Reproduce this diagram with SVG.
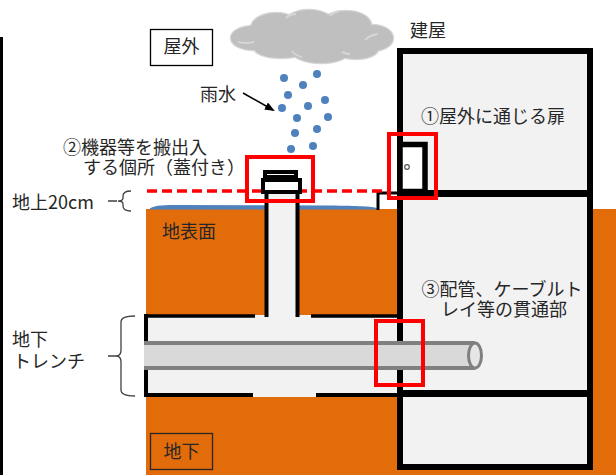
<svg xmlns="http://www.w3.org/2000/svg" width="616" height="475" viewBox="0 0 616 475">
  <style>
    .lbl { font-family: "Noto Sans CJK JP", "Noto Sans", sans-serif; font-size: 18px; fill: #262626; }
    .mid { text-anchor: middle; }
    .wall { fill: none; stroke: #000; }
    .hl { fill: none; stroke: #ff0000; stroke-width: 4; }
    .brace { fill: none; stroke: #404040; stroke-width: 1.3; }
    .drop { fill: #4f81bd; }
    .cloud-edge { fill: #bfbfbf; stroke: #d6d6d6; stroke-width: 2.5; }
    .cloud-fill { fill: #bfbfbf; }
  </style>
  <defs>
    <marker id="arrowHead" markerWidth="10" markerHeight="8" refX="8" refY="4" orient="auto" markerUnits="userSpaceOnUse">
      <path d="M0,0 L10,4 L0,8 Z" fill="#000"/>
    </marker>
  </defs>

  <rect x="0" y="0" width="616" height="475" fill="#ffffff"/>

  <!-- left border line -->
  <rect x="0" y="37" width="3" height="438" fill="#000"/>

  <!-- ground -->
  <g id="ground">
    <rect x="146" y="209" width="470" height="266" fill="#e36c0a"/>
    <path d="M149,209.5 C152,205 165,204.8 180,205 L330,205.6 C358,206 372,206.4 377,208.2 L377,209.5 Z" fill="#4f81bd"/>
  </g>

  <!-- building -->
  <g id="building">
    <rect x="400" y="51" width="190" height="416" fill="#f2f2f2" stroke="#000" stroke-width="6"/>
    <line x1="397" y1="193.5" x2="593" y2="193.5" stroke="#000" stroke-width="7"/>
    <line x1="397" y1="393.5" x2="593" y2="393.5" stroke="#000" stroke-width="7"/>
    <path class="wall" d="M397,193 H378 V210" stroke-width="3"/>
  </g>

  <!-- door to outside -->
  <g id="door">
    <rect x="400" y="144.5" width="25" height="47" fill="#ffffff" stroke="#000" stroke-width="5.5"/>
    <circle cx="407" cy="167" r="2.3" fill="#ffffff" stroke="#555" stroke-width="1.2"/>
  </g>

  <!-- underground trench and shaft -->
  <g id="trench">
    <rect x="146" y="315" width="251" height="82" fill="#f2f2f2"/>
    <rect x="268" y="194" width="28" height="123" fill="#f2f2f2"/>
    <path class="wall" stroke-width="3.5" d="M146,316 H255 M311,316 H397"/>
    <path class="wall" stroke-width="4" d="M146,395 H253 M316,395 H397"/>
    <path class="wall" stroke-width="4" d="M146,314 V397"/>
    <path class="wall" stroke-width="4" d="M266.5,194 V317 M297.5,194 V317"/>
  </g>

  <!-- pipe / cable tray -->
  <g id="pipe">
    <rect x="144" y="343" width="331" height="25" fill="#d9d9d9"/>
    <path d="M144,343 H475 M144,368 H475" fill="none" stroke="#808080" stroke-width="4"/>
    <ellipse cx="475" cy="355.5" rx="6.5" ry="12.5" fill="#e6e6e6" stroke="#808080" stroke-width="3"/>
  </g>

  <!-- ground + 20cm reference line -->
  <line x1="147" y1="191" x2="383" y2="191" stroke="#ff0000" stroke-width="3.5" stroke-dasharray="10 5"/>

  <!-- hatch with lid -->
  <g id="hatch">
    <rect x="263" y="180" width="37" height="12" fill="#ffffff" stroke="#000" stroke-width="4"/>
    <rect x="265" y="172" width="31" height="5" fill="#ffffff" stroke="#000" stroke-width="4"/>
  </g>

  <!-- highlighted spots -->
  <g id="highlights">
    <rect class="hl" x="247" y="157" width="66" height="44"/>
    <rect class="hl" x="389" y="134" width="47" height="64"/>
    <rect class="hl" x="376" y="321" width="47" height="64"/>
  </g>

  <!-- cloud -->
  <g id="cloud">
    <ellipse class="cloud-edge" cx="253" cy="38" rx="22" ry="12"/>
    <ellipse class="cloud-edge" cx="276" cy="28" rx="25" ry="15"/>
    <ellipse class="cloud-edge" cx="309" cy="24" rx="25" ry="14"/>
    <ellipse class="cloud-edge" cx="346" cy="25" rx="25" ry="14"/>
    <ellipse class="cloud-edge" cx="372" cy="38" rx="21" ry="13"/>
    <ellipse class="cloud-edge" cx="356" cy="49" rx="22" ry="10"/>
    <ellipse class="cloud-edge" cx="321" cy="50" rx="30" ry="13"/>
    <ellipse class="cloud-edge" cx="281" cy="48" rx="27" ry="10"/>
    <ellipse class="cloud-fill" cx="253" cy="38" rx="22" ry="12"/>
    <ellipse class="cloud-fill" cx="276" cy="28" rx="25" ry="15"/>
    <ellipse class="cloud-fill" cx="309" cy="24" rx="25" ry="14"/>
    <ellipse class="cloud-fill" cx="346" cy="25" rx="25" ry="14"/>
    <ellipse class="cloud-fill" cx="372" cy="38" rx="21" ry="13"/>
    <ellipse class="cloud-fill" cx="356" cy="49" rx="22" ry="10"/>
    <ellipse class="cloud-fill" cx="321" cy="50" rx="30" ry="13"/>
    <ellipse class="cloud-fill" cx="281" cy="48" rx="27" ry="10"/>
    <ellipse class="cloud-fill" cx="312" cy="38" rx="62" ry="15"/>
    <path d="M238,42 Q246,44 254,42 M286,18 Q290,14 296,14 M330,16 Q333,12 338,12 M365,40 Q370,35 378,34 M292,51 Q296,56 302,57 M342,52 Q346,54 350,54" fill="none" stroke="#d6d6d6" stroke-width="2"/>
  </g>

  <!-- rain -->
  <g id="rain">
    <circle class="drop" cx="284" cy="78" r="4"/>
    <circle class="drop" cx="317" cy="74" r="4"/>
    <circle class="drop" cx="303" cy="85" r="4"/>
    <circle class="drop" cx="288" cy="95" r="4"/>
    <circle class="drop" cx="325" cy="100" r="4"/>
    <circle class="drop" cx="282" cy="108" r="4"/>
    <circle class="drop" cx="308" cy="106" r="4"/>
    <circle class="drop" cx="297" cy="118" r="4"/>
    <circle class="drop" cx="328" cy="117" r="4"/>
    <circle class="drop" cx="295" cy="133" r="4"/>
    <circle class="drop" cx="317" cy="129" r="4"/>
    <circle class="drop" cx="291" cy="149" r="4"/>
    <circle class="drop" cx="313" cy="146" r="4"/>
  </g>

  <!-- leader lines and braces -->
  <g id="connectors">
    <line x1="243" y1="93" x2="273" y2="110" stroke="#000" stroke-width="1.5" marker-end="url(#arrowHead)"/>
    <path class="brace" d="M108,201 H117 M131,191 Q123,191 123,196 V198 Q123,201 118,201 Q123,201 123,204 V206 Q123,211 131,211"/>
    <path class="brace" d="M108,356 H117 M135,316 Q121,316 121,322 V350 Q121,356 116,356 Q121,356 121,362 V390 Q121,396 135,396"/>
  </g>

  <!-- labels -->
  <g id="label-outside">
    <rect x="150.5" y="29.5" width="62" height="36" fill="#ffffff" stroke="#000" stroke-width="1.3"/>
    <text class="lbl mid" x="181.5" y="53">屋外</text>
  </g>
  <g id="label-underground">
    <rect x="150.5" y="433.5" width="62" height="36" fill="none" stroke="#262626" stroke-width="1.3"/>
    <text class="lbl mid" x="181.5" y="458">地下</text>
  </g>
  <text id="label-building" class="lbl mid" x="428" y="37">建屋</text>
  <text id="label-rain" class="lbl" x="200" y="101">雨水</text>
  <text id="label-hatch" class="lbl"><tspan x="63" y="154">②機器等を搬出入</tspan><tspan x="83" y="174">する個所（蓋付き）</tspan></text>
  <text id="label-20cm" class="lbl" x="12" y="209">地上20cm</text>
  <text id="label-surface" class="lbl" x="162" y="238">地表面</text>
  <text id="label-door" class="lbl mid" x="493" y="123">①屋外に通じる扉</text>
  <text id="label-penetration" class="lbl mid"><tspan x="502" y="296">③配管、ケーブルト</tspan><tspan x="504" y="316">レイ等の貫通部</tspan></text>
  <text id="label-trench" class="lbl"><tspan x="12" y="346">地下</tspan><tspan x="13" y="368">トレンチ</tspan></text>
</svg>
